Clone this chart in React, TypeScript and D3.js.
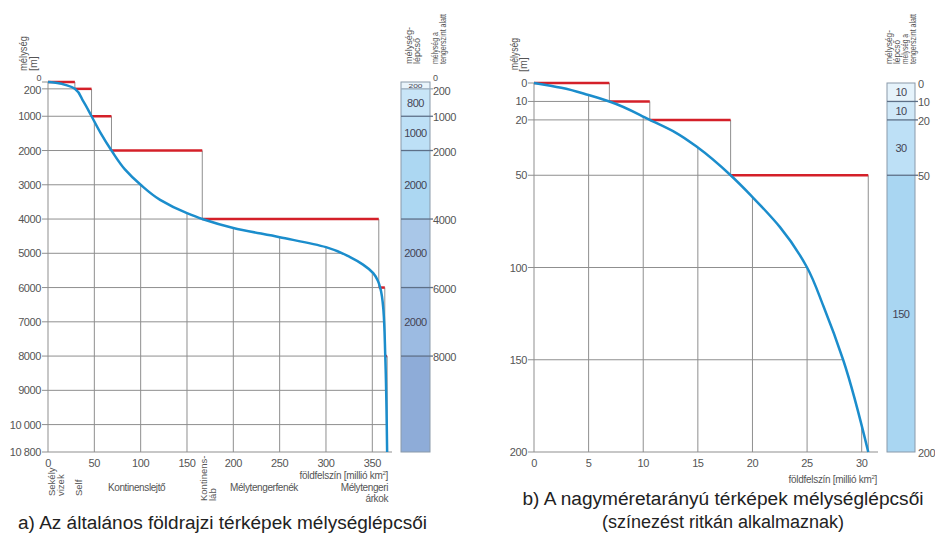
import * as d3 from 'd3';
import React from 'react';

// ---- a) general maps ----
const depthTicksA = [0, 200, 1000, 2000, 3000, 4000, 5000, 6000, 7000, 8000, 9000, 10000, 10800];
const depthTickLabelsA = ['0', '200', '1000', '2000', '3000', '4000', '5000', '6000', '7000', '8000', '9000', '10 000', '10 800'];
const areaTicksA = [0, 50, 100, 150, 200, 250, 300, 350];
// hypsographic curve (area in million km2, depth in m)
const curveAreaA = [0, 10, 20.5, 29, 38, 47, 57, 68.5, 83, 100, 121, 150, 166.5, 200, 250, 300, 326, 340, 351, 356, 358.5, 362, 364, 366];
const curveDepthA = [0, 30, 100, 200, 560, 1000, 1500, 2000, 2550, 3000, 3440, 3830, 4000, 4260, 4530, 4820, 5110, 5330, 5580, 5800, 6000, 6660, 8000, 10800];
const stepDepthsA = [0, 200, 1000, 2000, 4000, 6000, 8000, 10800];
const stepAreasA = [0, 29, 47, 68.5, 166.5, 357, 363.5, 366];
const stepSizesA = ['200', '800', '1000', '2000', '2000', '2000', ''];
const stepColorsA = ['#e9f4fb', '#c8e5f7', '#bde0f6', '#acd7f2', '#a9c7e8', '#9cbbe2', '#8eacd8'];
const legendLabelsA = ['0', '200', '1000', '2000', '4000', '6000', '8000'];

// ---- b) large scale maps ----
const depthTicksB = [0, 10, 20, 50, 100, 150, 200];
const areaTicksB = [0, 5, 10, 15, 20, 25, 30];
const curveAreaB = [0, 2.5, 5, 6.9, 10.6, 13, 15, 18, 20, 22.5, 25, 26.5, 28.3, 30.6];
const curveDepthB = [0, 2.6, 6.5, 10, 20, 27, 35, 50, 61.8, 78, 100, 121, 150, 200];
const stepDepthsB = [0, 10, 20, 50, 200];
const stepAreasB = [0, 6.9, 10.6, 18, 30.6];
const stepSizesB = ['10', '10', '30', '150'];
const stepColorsB = ['#e6f3fb', '#cfe8f8', '#bde0f6', '#a9d6f2'];
const legendLabelsB = ['0', '10', '20', '50', '200'];

const FONT = 'Liberation Sans, Arial, sans-serif';
const GRID = '#8f8f8f';
const TXT = '#555';
const BLUE = '#1b8dcc';
const RED = '#d42029';

type PanelProps = {
  x: d3.ScaleLinear<number, number>;
  y: d3.ScaleLinear<number, number>;
  depthTicks: number[];
  depthLabels: string[];
  areaTicks: number[];
  curveArea: number[];
  curveDepth: number[];
  stepDepths: number[];
  stepAreas: number[];
  axisEnd: number;
};

const Panel = (p: PanelProps) => {
  const { x, y } = p;
  const maxDepth = p.depthTicks[p.depthTicks.length - 1];
  const areaAtDepth = d3.scaleLinear().domain(p.curveDepth).range(p.curveArea);
  const depthAtArea = d3.scaleLinear().domain(p.curveArea).range(p.curveDepth);
  const pts: [number, number][] = p.curveArea.map((a, i) => [x(a), y(p.curveDepth[i])]);
  const line = d3.line().curve(d3.curveMonotoneY)(pts) || '';
  const x0 = x(0);
  return (
    <g>
      {/* horizontal grid: from the axis to the curve */}
      {p.depthTicks.slice(1, -1).map((d) => (
        <line key={'h' + d} x1={x0} x2={x(areaAtDepth(d))} y1={y(d)} y2={y(d)} stroke={GRID} strokeWidth={1} />
      ))}
      {/* vertical grid: from the curve to the bottom */}
      {p.areaTicks.slice(1).map((a) => (
        <line key={'v' + a} x1={x(a)} x2={x(a)} y1={y(depthAtArea(a))} y2={y(maxDepth)} stroke={GRID} strokeWidth={1} />
      ))}
      {/* staircase verticals */}
      {p.stepDepths.slice(0, -1).map((d, i) => (
        <line key={'sv' + i} x1={x(p.stepAreas[i + 1])} x2={x(p.stepAreas[i + 1])} y1={y(d)} y2={y(p.stepDepths[i + 1])} stroke={GRID} strokeWidth={1} />
      ))}
      {/* axes */}
      <line x1={x0} x2={x0} y1={y(0)} y2={y(maxDepth)} stroke={GRID} strokeWidth={1} />
      <line x1={x0} x2={p.axisEnd} y1={y(maxDepth)} y2={y(maxDepth)} stroke={GRID} strokeWidth={1} />
      {p.depthTicks.map((d, i) => {
        // crowded first label is lifted and shrunk, as in the print
        const tight = i < p.depthTicks.length - 1 && y(p.depthTicks[i + 1]) - y(d) < 12;
        const after = i > 0 && y(d) - y(p.depthTicks[i - 1]) < 12;
        return (
          <g key={'t' + d}>
            <line x1={x0 - 6} x2={x0} y1={y(d)} y2={y(d)} stroke={GRID} strokeWidth={1} />
            <text x={x0 - 7} y={tight ? y(d) - 1 : after ? y(d) + 5 : y(d) + 4} textAnchor="end" fontSize={tight ? 9 : 11} fill={TXT} letterSpacing={-0.4}>{p.depthLabels[i]}</text>
          </g>
        );
      })}
      {p.areaTicks.map((a) => (
        <text key={'at' + a} x={x(a)} y={y(maxDepth) + 15} textAnchor="middle" fontSize={11} fill={TXT} letterSpacing={-0.4}>{a}</text>
      ))}
      {/* red step levels */}
      {p.stepDepths.slice(0, -1).map((d, i) => (
        <line key={'r' + i} x1={x(p.stepAreas[i])} x2={x(p.stepAreas[i + 1])} y1={y(d)} y2={y(d)} stroke={RED} strokeWidth={2.5} />
      ))}
      <path d={line} fill="none" stroke={BLUE} strokeWidth={2.5} />
    </g>
  );
};

type LegendProps = {
  y: d3.ScaleLinear<number, number>;
  x1: number;
  x2: number;
  depths: number[];
  sizes: string[];
  colors: string[];
  labels: string[];
  labelX: number;
};

const Legend = (p: LegendProps) => {
  const { y } = p;
  const cx = (p.x1 + p.x2) / 2;
  return (
    <g>
      {p.depths.slice(0, -1).map((d, i) => {
        const h = y(p.depths[i + 1]) - y(d);
        return (
          <g key={'s' + i}>
            <rect x={p.x1} y={y(d)} width={p.x2 - p.x1} height={h} fill={p.colors[i]} />
            {h < 10 ? (
              <text x={cx} y={y(d) + h - 1} textAnchor="middle" fontSize={6} fill="#445" textLength={14} lengthAdjust="spacingAndGlyphs">{p.sizes[i]}</text>
            ) : (
              <text x={cx} y={(y(d) + y(p.depths[i + 1])) / 2 + 4} textAnchor="middle" fontSize={11} fill="#445" letterSpacing={-0.5}>{p.sizes[i]}</text>
            )}
          </g>
        );
      })}
      <rect x={p.x1} y={y(p.depths[0])} width={p.x2 - p.x1} height={y(p.depths[p.depths.length - 1]) - y(p.depths[0])} fill="none" stroke="#8a9aaa" strokeWidth={1} />
      {p.depths.slice(1, -1).map((d, i) => (
        <line key={'l' + i} x1={p.x1} x2={p.x2 + 3} y1={y(d)} y2={y(d)} stroke={i === 0 && p.labels.length > 5 ? '#9ab' : '#5d7088'} strokeWidth={1.3} />
      ))}
      {p.labels.map((l, i) => {
        const tight = i < p.labels.length - 1 && y(p.depths[i + 1]) - y(p.depths[i]) < 12;
        const after = i > 0 && y(p.depths[i]) - y(p.depths[i - 1]) < 12;
        return (
          <text key={'lab' + i} x={p.labelX} y={tight ? y(p.depths[i]) - 1 : after ? y(p.depths[i]) + 6 : y(p.depths[i]) + 5} fontSize={tight ? 9 : 11} fill={TXT} letterSpacing={-0.4}>{l}</text>
        );
      })}
    </g>
  );
};

const App = () => {
  const xA = d3.scaleLinear().domain([0, 350]).range([48, 372.3]);
  const yA = d3.scaleLinear().domain([0, 10800]).range([82, 452]);
  const xB = d3.scaleLinear().domain([0, 30]).range([534, 861.7]);
  const yB = d3.scaleLinear().domain([0, 200]).range([83, 452]);

  const rot = (x: number, y: number) => `translate(${x},${y}) rotate(-90)`;

  return (
    <svg width={935} height={542} style={{ position: 'absolute', left: 0, top: 0, background: '#fff' }} fontFamily={FONT}>
      {/* ---------- panel a ---------- */}
      <Panel x={xA} y={yA} depthTicks={depthTicksA} depthLabels={depthTickLabelsA} areaTicks={areaTicksA}
        curveArea={curveAreaA} curveDepth={curveDepthA} stepDepths={stepDepthsA} stepAreas={stepAreasA} axisEnd={392} />
      <text transform={rot(27, 71)} fontSize={10.5} fill={TXT} textLength={35} lengthAdjust="spacingAndGlyphs">mélység</text>
      <text transform={rot(37, 71)} fontSize={10.5} fill={TXT}>[m]</text>

      <Legend y={yA} x1={401} x2={430} depths={stepDepthsA} sizes={stepSizesA} colors={stepColorsA} labels={legendLabelsA} labelX={433} />
      <text transform={rot(412, 64)} fontSize={9.5} fill={TXT} textLength={37} lengthAdjust="spacingAndGlyphs">mélység-</text>
      <text transform={rot(420, 64)} fontSize={9.5} fill={TXT} textLength={26} lengthAdjust="spacingAndGlyphs">lépcső</text>
      <text transform={rot(438, 64)} fontSize={9} fill={TXT} textLength={32} lengthAdjust="spacingAndGlyphs">mélység a</text>
      <text transform={rot(446, 64)} fontSize={9} fill={TXT} textLength={50} lengthAdjust="spacingAndGlyphs">tengerszint alatt</text>

      <text x={388} y={479} textAnchor="end" fontSize={10} fill={TXT} letterSpacing={-0.3}>földfelszín [millió km<tspan fontSize={6} dy={-4}>2</tspan><tspan dy={4}>]</tspan></text>
      {/* seafloor regions */}
      <text transform={rot(55, 496)} fontSize={9.5} fill={TXT}>Sekély</text>
      <text transform={rot(64, 496)} fontSize={9.5} fill={TXT}>vizek</text>
      <text transform={rot(82, 496)} fontSize={9.5} fill={TXT}>Self</text>
      <text x={108} y={491} fontSize={10} fill={TXT} letterSpacing={-0.4}>Kontinenslejtő</text>
      <text transform={rot(207, 501)} fontSize={9.5} fill={TXT}>Kontinens-</text>
      <text transform={rot(216, 501)} fontSize={9.5} fill={TXT}>láb</text>
      <text x={230} y={491} fontSize={10} fill={TXT} letterSpacing={-0.4}>Mélytengerfenék</text>
      <text x={388} y={491} textAnchor="end" fontSize={10} fill={TXT} letterSpacing={-0.4}>Mélytengeri</text>
      <text x={388} y={502} textAnchor="end" fontSize={10} fill={TXT} letterSpacing={-0.4}>árkok</text>

      <text x={18} y={529} fontSize={18} fill="#222" textLength={409} lengthAdjust="spacingAndGlyphs">a) Az általános földrajzi térképek mélységlépcsői</text>

      {/* ---------- panel b ---------- */}
      <Panel x={xB} y={yB} depthTicks={depthTicksB} depthLabels={depthTicksB.map(String)} areaTicks={areaTicksB}
        curveArea={curveAreaB} curveDepth={curveDepthB} stepDepths={stepDepthsB} stepAreas={stepAreasB} axisEnd={878} />
      <text transform={rot(518, 70)} fontSize={10.5} fill={TXT} textLength={32} lengthAdjust="spacingAndGlyphs">mélység</text>
      <text transform={rot(527, 72)} fontSize={10.5} fill={TXT}>[m]</text>

      <Legend y={yB} x1={887} x2={915} depths={stepDepthsB} sizes={stepSizesB} colors={stepColorsB} labels={legendLabelsB} labelX={918} />
      <text transform={rot(892, 64)} fontSize={9.5} fill={TXT} textLength={34} lengthAdjust="spacingAndGlyphs">mélység-</text>
      <text transform={rot(900, 64)} fontSize={9.5} fill={TXT} textLength={24} lengthAdjust="spacingAndGlyphs">lépcső</text>
      <text transform={rot(908, 64)} fontSize={9} fill={TXT} textLength={30} lengthAdjust="spacingAndGlyphs">mélység a</text>
      <text transform={rot(916, 64)} fontSize={9} fill={TXT} textLength={50} lengthAdjust="spacingAndGlyphs">tengerszint alatt</text>

      <text x={877} y={483} textAnchor="end" fontSize={10} fill={TXT} letterSpacing={-0.3}>földfelszín [millió km<tspan fontSize={6} dy={-4}>2</tspan><tspan dy={4}>]</tspan></text>

      <text x={723} y={505} textAnchor="middle" fontSize={18} fill="#222" textLength={401} lengthAdjust="spacingAndGlyphs">b) A nagyméretarányú térképek mélységlépcsői</text>
      <text x={723} y={528} textAnchor="middle" fontSize={18} fill="#222">(színezést ritkán alkalmaznak)</text>
    </svg>
  );
};

export default App;
